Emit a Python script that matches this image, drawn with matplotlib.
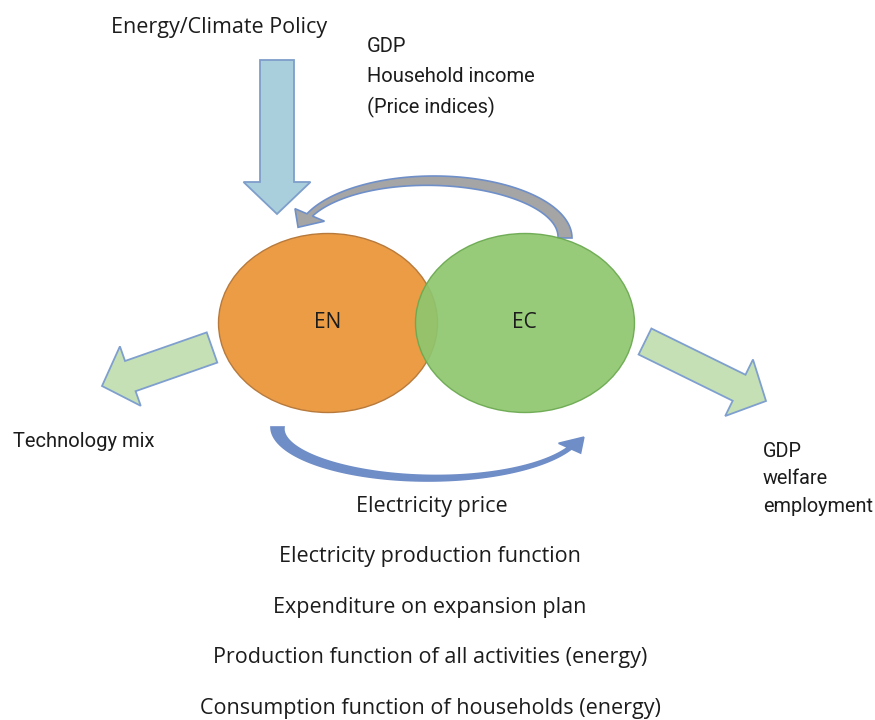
import numpy as np
import matplotlib.pyplot as plt
from matplotlib.patches import Ellipse, Polygon

# text content of the diagram
policy_label = "Energy/Climate Policy"
feedback_labels = ["GDP", "Household income", "(Price indices)"]
left_labels = ["Technology mix"]
right_labels = ["GDP", "welfare", "employment"]
link_label = "Electricity price"
link_items = ["Electricity production function",
              "Expenditure on expansion plan",
              "Production function of all activities (energy)",
              "Consumption function of households (energy)"]
modules = ["EN", "EC"]

SANS = ['Open Sans', 'DejaVu Sans']
NARROW = ['Liberation Sans Narrow', 'Roboto', 'DejaVu Sans']
TXT = '#1c1c1c'


def straight_arrow(ax, tail, tip, shaft_w, head_w, head_len, fc, ec):
    tail = np.array(tail, float)
    tip = np.array(tip, float)
    d = tip - tail
    u = d / np.hypot(*d)
    n = np.array([-u[1], u[0]])
    base = tip - u * head_len
    pts = [tail + n * shaft_w / 2, base + n * shaft_w / 2, base + n * head_w / 2,
           tip, base - n * head_w / 2, base - n * shaft_w / 2, tail - n * shaft_w / 2]
    ax.add_patch(Polygon(pts, closed=True, fc=fc, ec=ec, lw=1.3, zorder=3))


def curved_arrow(ax, cx, cy, a, b, phi0, phi1, w0, w1, head_w, head_len, sign,
                 fc, ec, taper=1.0):
    # crescent-like arc, thickness tapering from w0 to w1, head at the phi1 end
    s = np.linspace(0, 1, 100)
    phi = phi0 + (phi1 - phi0) * s
    w = w1 + (w0 - w1) * (1 - s) ** taper
    outer = np.c_[cx + a * np.cos(phi), cy + sign * b * np.sin(phi)]
    inner = np.c_[cx + (a - w) * np.cos(phi), cy + sign * (b - w) * np.sin(phi)]
    p_o, p_i = outer[-1], inner[-1]
    mid = (p_o + p_i) / 2
    t = np.array([-a * np.sin(phi1), sign * b * np.cos(phi1)]) * np.sign(phi1 - phi0)
    t = t / np.hypot(*t)
    nrm = (p_o - p_i) / np.hypot(*(p_o - p_i))
    tip = mid + t * head_len
    h1 = mid + nrm * head_w / 2
    h2 = mid - nrm * head_w / 2
    pts = np.vstack([outer, [h1, tip, h2], inner[::-1]])
    ax.add_patch(Polygon(pts, closed=True, fc=fc, ec=ec, lw=1.2, zorder=2))


fig = plt.figure(figsize=(8.75, 7.2), dpi=100)
ax = fig.add_axes([0, 0, 1, 1])
ax.set_xlim(0, 875)
ax.set_ylim(720, 0)
ax.axis('off')

# policy arrow down into EN
straight_arrow(ax, (277, 60), (277, 214), 34, 67, 32, '#a9cfdc', '#7e9ecb')

# feedback arrow EC -> EN (top, grey)
curved_arrow(ax, 434, 238, 138, 62, np.radians(0), np.radians(157), 14, 6,
             32, 17, -1, '#a5a5a5', '#6f8fc9')

# electricity price arrow EN -> EC (bottom, blue)
curved_arrow(ax, 428, 427, 157, 54, np.radians(180), np.radians(24), 13, 4,
             24, 18, 1, '#6f8dc7', '#6f8dc7', taper=2.0)

# modules
ax.add_patch(Ellipse((328, 323), 219, 179, fc='#eb9c45', ec='#b87a3c', lw=1.0, zorder=4))
ax.add_patch(Ellipse((525, 323), 219, 179, fc='#8ec66e', ec='#6aa84f', lw=1.0,
                     alpha=0.92, zorder=5))
ax.text(328, 323, modules[0], ha='center', va='center', fontsize=15, family=SANS,
        color=TXT, zorder=6)
ax.text(524, 323, modules[1], ha='center', va='center', fontsize=15, family=SANS,
        color=TXT, zorder=6)

# outputs
straight_arrow(ax, (212, 347.5), (102, 386), 32, 63, 30, '#c5e0b4', '#7f9fcf')
straight_arrow(ax, (645, 341.5), (766, 401), 29, 63, 30, '#c5e0b4', '#7f9fcf')

# labels
ax.text(219, 33, policy_label, ha='center', va='baseline', fontsize=15.5,
        family=SANS, color=TXT)
for i, s in enumerate(feedback_labels):
    ax.text(367, 52 + 30.5 * i, s, ha='left', va='baseline', fontsize=14.5,
            family=NARROW, color=TXT)
ax.text(13, 447, left_labels[0], ha='left', va='baseline', fontsize=14.5,
        family=NARROW, color=TXT)
for i, s in enumerate(right_labels):
    ax.text(763, 457 + 27.5 * i, s, ha='left', va='baseline', fontsize=14.3,
            family=NARROW, color=TXT)
ax.text(432, 512, link_label, ha='center', va='baseline', fontsize=15.5,
        family=SANS, color=TXT)
for i, s in enumerate(link_items):
    ax.text(430, 562 + 50.7 * i, s, ha='center', va='baseline', fontsize=15.5,
            family=SANS, color=TXT)

fig.savefig('out.png', dpi=100)
